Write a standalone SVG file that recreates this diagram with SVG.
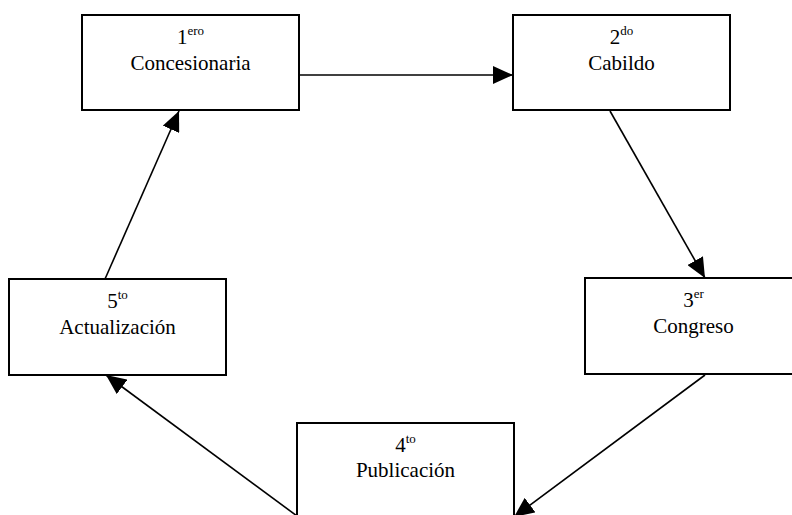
<svg xmlns="http://www.w3.org/2000/svg" width="792" height="515" viewBox="0 0 792 515">
<style>
  .box { fill: #fff; stroke: #000; stroke-width: 2; }
  .lbl { font-size: 21px; fill: #000; text-anchor: middle; }
  .sup { font-size: 13px; }
  .conn { stroke: #000; stroke-width: 1.6; fill: none; marker-end: url(#arrow); }
</style>
<defs>
  <marker id="arrow" viewBox="0 0 20 18" refX="20" refY="9" markerWidth="20" markerHeight="18" markerUnits="userSpaceOnUse" orient="auto">
    <path d="M0,0 L20,9 L0,18 z" fill="#000"/>
  </marker>
</defs>
<rect width="792" height="515" fill="#fff"/>
<g id="connectors">
  <line class="conn" x1="299" y1="75" x2="513" y2="75"/>
  <line class="conn" x1="610" y1="111" x2="705" y2="278"/>
  <line class="conn" x1="705" y1="375" x2="514" y2="517"/>
  <line class="conn" x1="297" y1="516" x2="106" y2="375"/>
  <line class="conn" x1="105" y1="279" x2="179" y2="111"/>
</g>
<g font-family="Liberation Serif, Tinos, Times New Roman, DejaVu Serif, serif">
<g id="node1">
  <rect class="box" x="82" y="15" width="217" height="95"/>
  <text class="lbl" x="190.5" y="44">1<tspan class="sup" dy="-9">ero</tspan></text>
  <text class="lbl" x="190.5" y="70">Concesionaria</text>
</g>
<g id="node2">
  <rect class="box" x="513" y="15" width="217" height="95"/>
  <text class="lbl" x="621.5" y="44">2<tspan class="sup" dy="-9">do</tspan></text>
  <text class="lbl" x="621.5" y="70">Cabildo</text>
</g>
<g id="node3">
  <rect class="box" x="585" y="278" width="217" height="96"/>
  <text class="lbl" x="693.5" y="307">3<tspan class="sup" dy="-9">er</tspan></text>
  <text class="lbl" x="693.5" y="333">Congreso</text>
</g>
<g id="node4">
  <rect class="box" x="297" y="423" width="217" height="96"/>
  <text class="lbl" x="405.5" y="452">4<tspan class="sup" dy="-9">to</tspan></text>
  <text class="lbl" x="405.5" y="477">Publicación</text>
</g>
<g id="node5">
  <rect class="box" x="9" y="279" width="217" height="96"/>
  <text class="lbl" x="117.5" y="308">5<tspan class="sup" dy="-9">to</tspan></text>
  <text class="lbl" x="117.5" y="334">Actualización</text>
</g>
</g>
</svg>
